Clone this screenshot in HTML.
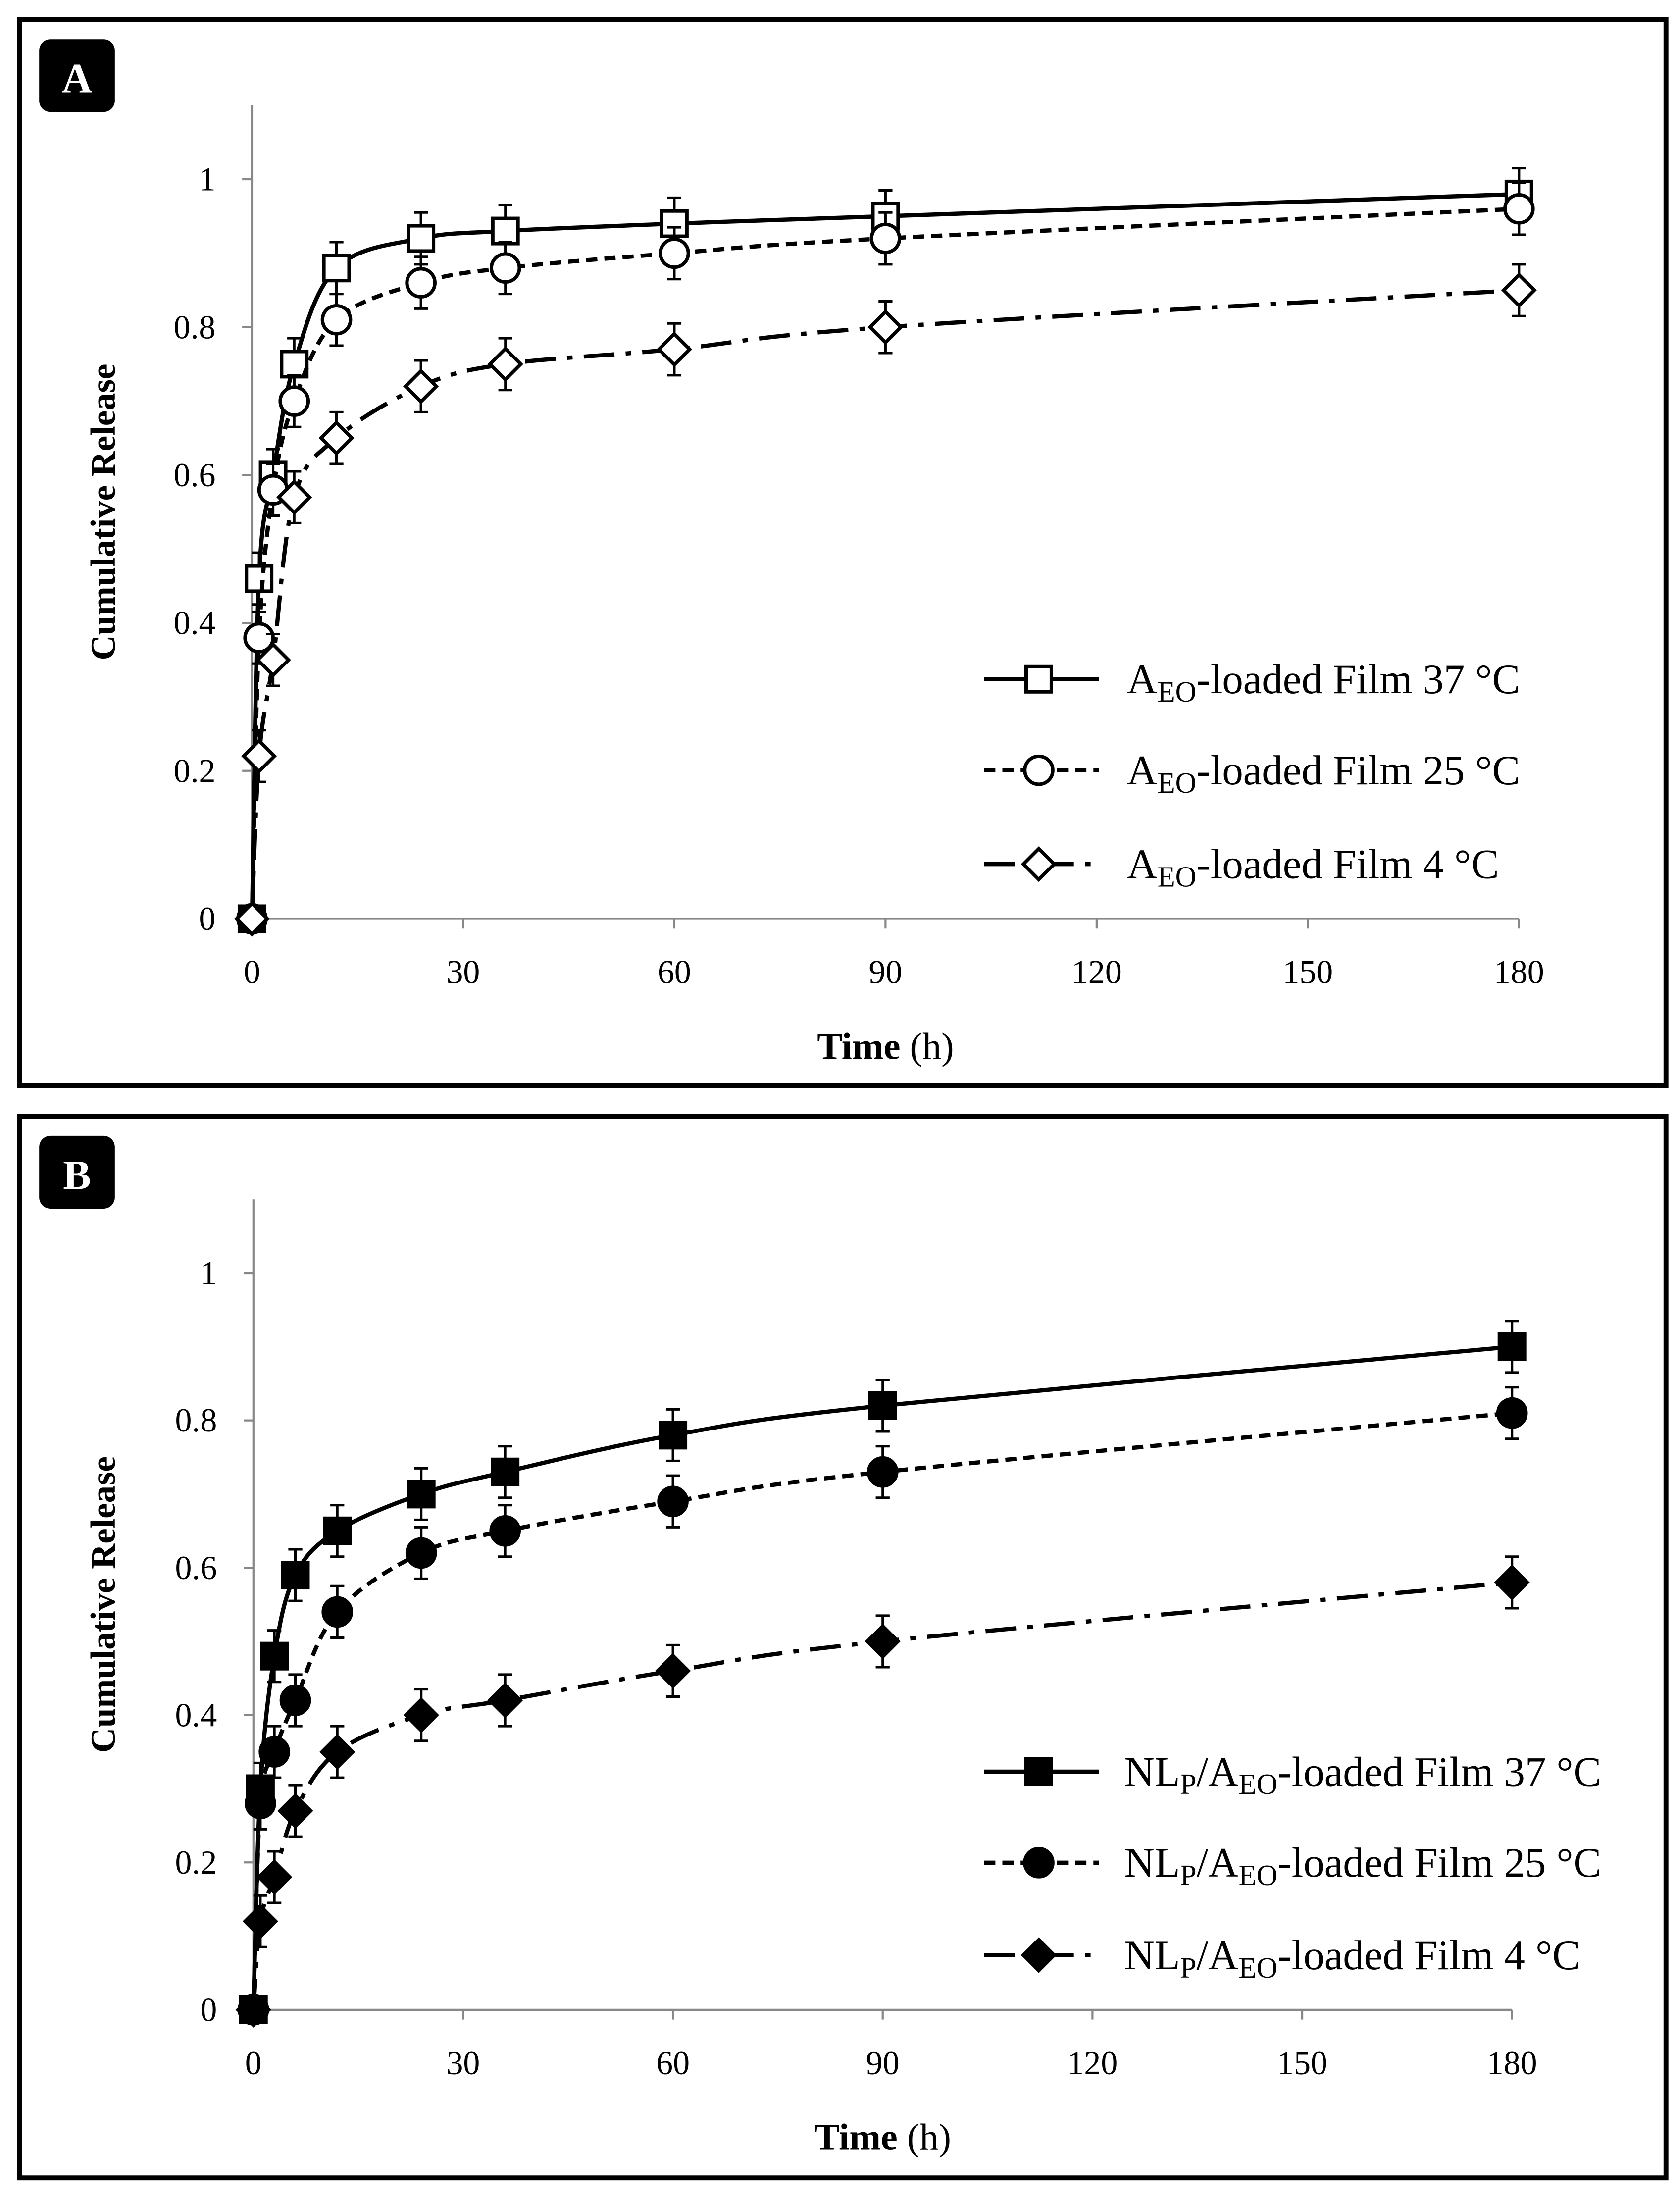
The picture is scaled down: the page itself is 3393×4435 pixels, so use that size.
<!DOCTYPE html>
<html><head><meta charset="utf-8"><style>html,body{margin:0;padding:0;background:#fff}svg{display:block}</style></head>
<body>
<svg id="fig" width="3393" height="4435" viewBox="0 0 1200 1568" preserveAspectRatio="none" xmlns="http://www.w3.org/2000/svg" font-family="Liberation Serif, serif"></svg>
<script>
const times=[0,1,3,6,12,24,36,60,90,180];
const a37=[0,0.46,0.60,0.75,0.88,0.92,0.93,0.94,0.95,0.98];
const a25=[0,0.38,0.58,0.70,0.81,0.86,0.88,0.90,0.92,0.96];
const a4=[0,0.22,0.35,0.57,0.65,0.72,0.75,0.77,0.80,0.85];
const b37=[0,0.30,0.48,0.59,0.65,0.70,0.73,0.78,0.82,0.90];
const b25=[0,0.28,0.35,0.42,0.54,0.62,0.65,0.69,0.73,0.81];
const b4=[0,0.12,0.18,0.27,0.35,0.40,0.42,0.46,0.50,0.58];
const errA=0.035, errB=0.035;
const xTicks=[0,30,60,90,120,150,180];
const yTicks=[0,0.2,0.4,0.6,0.8,1];
const NS='http://www.w3.org/2000/svg';
const svg=document.getElementById('fig');
function mk(tag,attrs,parent){const e=document.createElementNS(NS,tag);for(const k in attrs)e.setAttribute(k,attrs[k]);(parent||svg).appendChild(e);return e;}
function spline(pts){let d='M'+pts[0][0]+','+pts[0][1];for(let i=0;i<pts.length-1;i++){const p0=pts[Math.max(0,i-1)],p1=pts[i],p2=pts[i+1],p3=pts[Math.min(pts.length-1,i+2)];const t=0.17;d+=' C'+(p1[0]+(p2[0]-p0[0])*t)+','+(p1[1]+(p2[1]-p0[1])*t)+' '+(p2[0]-(p3[0]-p1[0])*t)+','+(p2[1]-(p3[1]-p1[1])*t)+' '+p2[0]+','+p2[1];}return d;}
function marker(g,shape,x,y,fill){
  if(shape==='sq')return mk('rect',{x:x-9,y:y-9,width:18,height:18,fill:fill,stroke:'#000','stroke-width':2.5},g);
  if(shape==='ci')return mk('circle',{cx:x,cy:y,r:10,fill:fill,stroke:'#000','stroke-width':2.5},g);
  return mk('polygon',{points:`${x},${y-11} ${x+11},${y} ${x},${y+11} ${x-11},${y}`,fill:fill,stroke:'#000','stroke-width':2.5},g);
}
function panel(cfg){
  const {top,bottom,x0,x1,y0,y1,letter,series,leg,prefix,err}=cfg;
  const X=t=>x0+(x1-x0)*t/180, Y=v=>y0-(y0-y1)*v;
  const p=mk('g',{});
  
  
  mk('rect',{x:14,y:top,width:1176,height:bottom-top,fill:'none',stroke:'#000','stroke-width':3.5},p);
  mk('rect',{x:28,y:top+14,width:54,height:52,rx:8,fill:'#000'},p);
  const lt=mk('text',{x:55,y:top+52,'text-anchor':'middle','font-size':30,'font-weight':'bold',fill:'#fff'},p);lt.textContent=letter;
  
  
  mk('line',{x1:x0,y1:y0,x2:x1,y2:y0,stroke:'#888','stroke-width':1.5},p);
  mk('line',{x1:x0,y1:y0,x2:x0,y2:Y(1.1),stroke:'#888','stroke-width':1.5},p);
  xTicks.forEach(t=>{mk('line',{x1:X(t),y1:y0,x2:X(t),y2:y0+7,stroke:'#888','stroke-width':1.5},p);
    const e=mk('text',{x:X(t),y:y0+46,'text-anchor':'middle','font-size':24},p);e.textContent=t;
    
    });
  yTicks.forEach(v=>{mk('line',{x1:x0-7,y1:Y(v),x2:x0,y2:Y(v),stroke:'#888','stroke-width':1.5},p);
    const e=mk('text',{x:x0-26,y:Y(v)+8,'text-anchor':'end','font-size':24},p);e.textContent=+v.toFixed(1);
    
    });
  const yt=mk('text',{x:0,y:0,'font-size':25,'font-weight':'bold','text-anchor':'middle',transform:`translate(82,${(y0+Y(1.1))/2}) rotate(-90)`},p);yt.textContent='Cumulative Release';
  
  
  const xt=mk('text',{x:(x0+x1)/2,y:y0+100,'text-anchor':'middle','font-size':27},p);
  xt.innerHTML='<tspan font-weight="bold">Time</tspan> (h)';
  
  
  series.forEach((s,si)=>{
    const g=mk('g',{},p);
    
    
    const pts=times.map((t,i)=>[X(t),Y(s.vals[i])]);
    mk('path',{d:spline(pts),fill:'none',stroke:'#000','stroke-width':3,'stroke-dasharray':s.dash},g);
    times.forEach((t,i)=>{if(i===0)return;const x=X(t);
      mk('line',{x1:x,y1:Y(s.vals[i]-err),x2:x,y2:Y(s.vals[i]+err),stroke:'#000','stroke-width':1.8},g);
      mk('line',{x1:x-5,y1:Y(s.vals[i]+err),x2:x+5,y2:Y(s.vals[i]+err),stroke:'#000','stroke-width':1.8},g);
      mk('line',{x1:x-5,y1:Y(s.vals[i]-err),x2:x+5,y2:Y(s.vals[i]-err),stroke:'#000','stroke-width':1.8},g);});
    pts.forEach(pt=>{const m=marker(g,s.shape,pt[0],pt[1],s.fill);
      
      });
    const ly=leg[si];
    const lg=mk('g',{},p);
    
    
    mk('line',{x1:703,y1:ly,x2:785,y2:ly,stroke:'#000','stroke-width':3,'stroke-dasharray':s.dash},lg);
    marker(lg,s.shape,742,ly,s.fill);
    const tx=mk('text',{x:cfg.legX,y:ly+10,'font-size':30},lg);
    tx.innerHTML=prefix+'A<tspan font-size="21" dy="6">EO</tspan><tspan dy="-6">-loaded Film '+s.label+' °C</tspan>';
  });
}
panel({top:14,bottom:775,x0:180,x1:1085,y0:656,y1:128,letter:'A',err:errA,legX:805,prefix:'',leg:[485,550,617],
  series:[{name:'a-37c',vals:a37,shape:'sq',fill:'#fff',dash:'none',label:'37'},
          {name:'a-25c',vals:a25,shape:'ci',fill:'#fff',dash:'8,5',label:'25'},
          {name:'a-4c',vals:a4,shape:'di',fill:'#fff',dash:'22,8,4,8',label:'4'}]});
panel({top:797,bottom:1555,x0:181,x1:1080,y0:1435,y1:909,letter:'B',err:errB,legX:803,prefix:'NL<tspan font-size="21" dy="6">P</tspan><tspan dy="-6">/</tspan>',leg:[1265,1330,1396],
  series:[{name:'b-37c',vals:b37,shape:'sq',fill:'#000',dash:'none',label:'37'},
          {name:'b-25c',vals:b25,shape:'ci',fill:'#000',dash:'8,5',label:'25'},
          {name:'b-4c',vals:b4,shape:'di',fill:'#000',dash:'22,8,4,8',label:'4'}]});
</script>
</body></html>
